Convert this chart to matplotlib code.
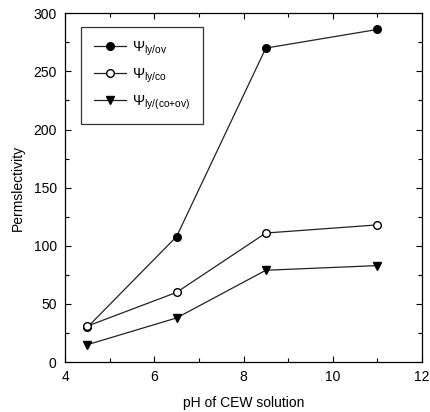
import matplotlib
matplotlib.use("Agg")
import matplotlib.pyplot as plt
from matplotlib.ticker import MultipleLocator

plt.rcParams['font.family'] = ['Liberation Sans', 'DejaVu Sans']
plt.rcParams['mathtext.fontset'] = 'custom'
plt.rcParams['mathtext.rm'] = 'Liberation Sans'
plt.rcParams['mathtext.it'] = 'Liberation Sans'

# data
ph = [4.5, 6.5, 8.5, 11.0]
psi_ly_ov = [30, 108, 270, 286]
psi_ly_co = [31, 60, 111, 118]
psi_ly_coov = [15, 38, 79, 83]

fig = plt.figure(figsize=(4.31, 4.12), dpi=100)
ax = fig.add_axes([0.151, 0.121, 0.828, 0.847])

ax.plot(ph, psi_ly_ov, color='#222222', lw=0.9, marker='o', ms=5.5,
        mfc='black', mec='black', label=r'$\Psi_{\mathrm{ly/ov}}$')
ax.plot(ph, psi_ly_co, color='#222222', lw=0.9, marker='o', ms=5.5,
        mfc='white', mec='black', label=r'$\Psi_{\mathrm{ly/co}}$')
ax.plot(ph, psi_ly_coov, color='#222222', lw=0.9, marker='v', ms=5.5,
        mfc='black', mec='black', label=r'$\Psi_{\mathrm{ly/(co{+}ov)}}$')

ax.set_xlim(4, 12)
ax.set_ylim(0, 300)
ax.xaxis.set_major_locator(MultipleLocator(2))
ax.xaxis.set_minor_locator(MultipleLocator(1))
ax.yaxis.set_major_locator(MultipleLocator(50))
ax.yaxis.set_minor_locator(MultipleLocator(25))
ax.tick_params(which='both', direction='in', top=True, right=True, labelsize=10)
ax.tick_params(which='major', length=4, width=0.8, pad=6)
ax.tick_params(which='minor', length=3, width=0.8)
for s in ax.spines.values():
    s.set_linewidth(0.9)

ax.set_xlabel('pH of CEW solution', fontsize=10, labelpad=8)
ax.set_ylabel('Permslectivity', fontsize=10, labelpad=6)

leg = ax.legend(loc='upper left', bbox_to_anchor=(0.045, 0.96), fontsize=10.5,
                frameon=True, fancybox=False, edgecolor='black',
                handlelength=2.2, handletextpad=0.45, labelspacing=0.6,
                borderpad=0.85, borderaxespad=0)
leg.get_frame().set_linewidth(0.9)

fig.savefig('out.png', dpi=100)
